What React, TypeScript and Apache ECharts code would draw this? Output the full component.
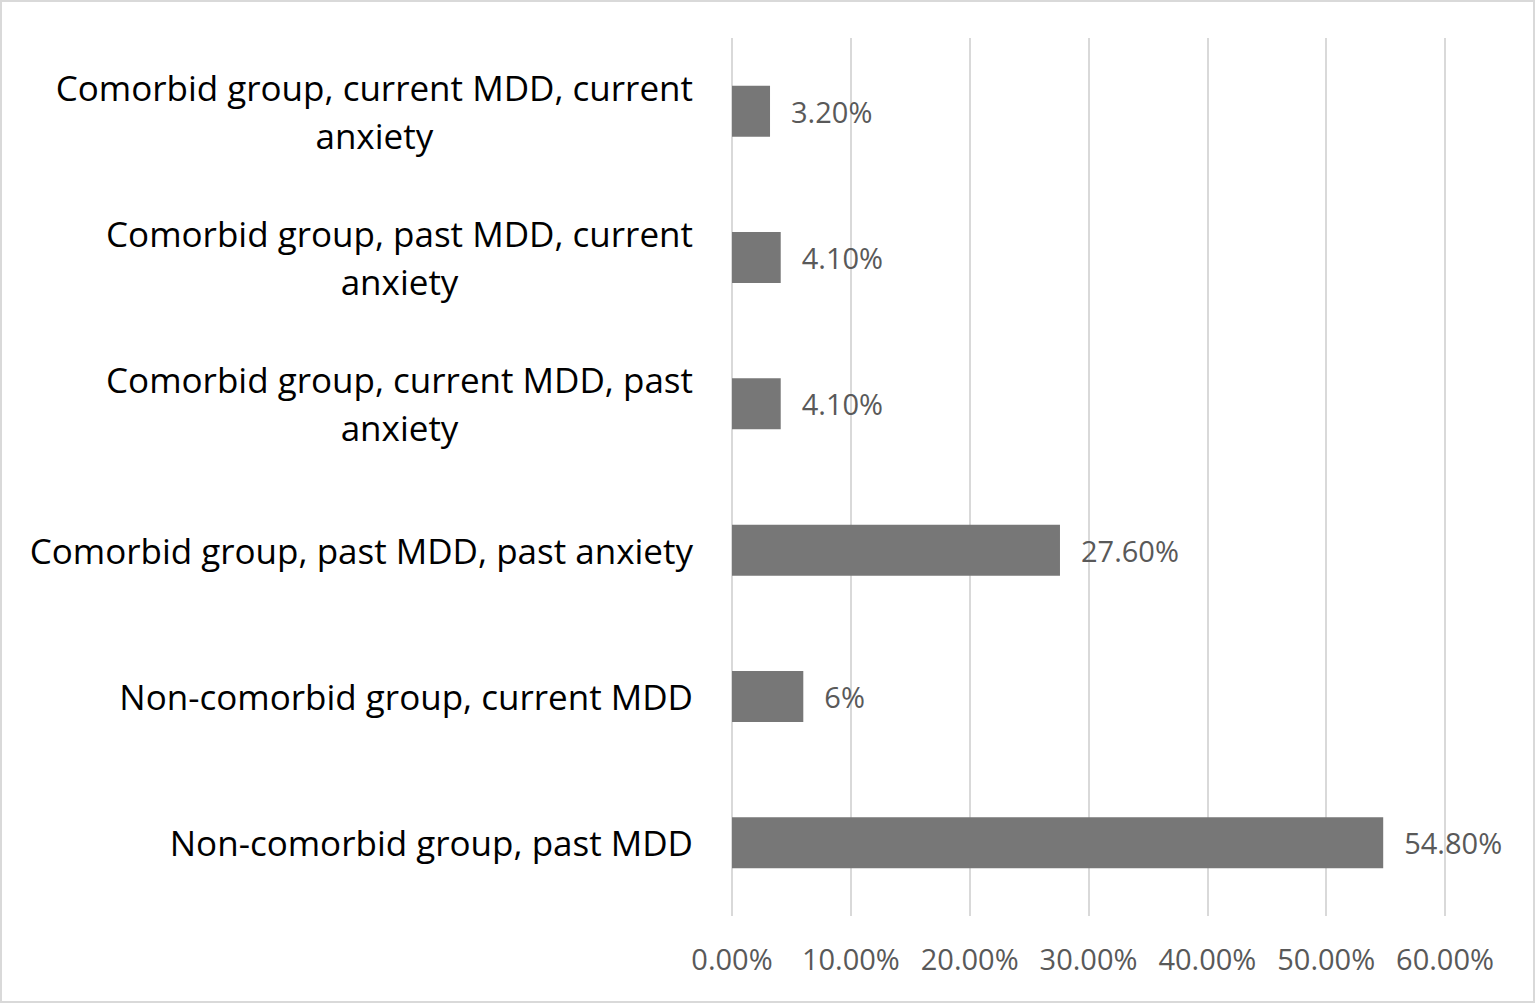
import React, { useEffect, useRef } from "react";
import * as echarts from "echarts";

const categories: string[] = [
  "Non-comorbid group, past MDD",
  "Non-comorbid group, current MDD",
  "Comorbid group, past MDD, past anxiety",
  "Comorbid group, current MDD, past\nanxiety",
  "Comorbid group, past MDD, current\nanxiety",
  "Comorbid group, current MDD, current\nanxiety",
];
const values: number[] = [54.8, 6, 27.6, 4.1, 4.1, 3.2];
const valueLabels: string[] = ["54.80%", "6%", "27.60%", "4.10%", "4.10%", "3.20%"];
const xMin = 0;
const xMax = 60;
const xStep = 10;

const FONT = "'Open Sans', sans-serif";

export default function App() {
  const ref = useRef<HTMLDivElement>(null);
  useEffect(() => {
    if (!ref.current) return;
    const chart = echarts.init(ref.current, undefined, { renderer: "svg" });
    chart.setOption({
      animation: false,
      backgroundColor: "#ffffff",
      graphic: [
        {
          type: "rect",
          shape: { x: 1, y: 1, width: 1533, height: 1001 },
          style: { fill: "none", stroke: "#d9d9d9", lineWidth: 2 },
          silent: true,
        },
      ],
      grid: { left: 732, right: 90, top: 38, bottom: 87, containLabel: false },
      xAxis: {
        type: "value",
        min: xMin,
        max: xMax,
        interval: xStep,
        axisLine: { show: false },
        axisTick: { show: false },
        splitLine: { show: true, lineStyle: { color: "#d9d9d9", width: 2 } },
        axisLabel: {
          formatter: (v: number) => `${v.toFixed(2)}%`,
          color: "#595959",
          fontFamily: FONT,
          fontSize: 29,
          margin: 28,
        },
      },
      yAxis: {
        type: "category",
        data: categories,
        axisLine: { show: false },
        axisTick: { show: false },
        axisLabel: {
          margin: 39,
          color: "#000000",
          fontFamily: FONT,
          fontSize: 35,
          lineHeight: 48,
          formatter: (v: string) =>
            v
              .split("\n")
              .map((l) => `{c|${l}}`)
              .join("\n"),
          rich: {
            c: {
              align: "center",
              color: "#000000",
              fontFamily: FONT,
              fontSize: 35,
              lineHeight: 48,
            },
          },
        },
      },
      series: [
        {
          type: "bar",
          data: values,
          barWidth: 51,
          itemStyle: { color: "#777777" },
          label: {
            show: true,
            position: "right",
            distance: 21,
            color: "#595959",
            fontFamily: FONT,
            fontSize: 29,
            formatter: (p: any) => valueLabels[p.dataIndex],
          },
        },
      ],
    });
    return () => chart.dispose();
  }, []);
  return (
    <div
      ref={ref}
      style={{ position: "absolute", left: 0, top: 0, width: 1535, height: 1003 }}
    />
  );
}
